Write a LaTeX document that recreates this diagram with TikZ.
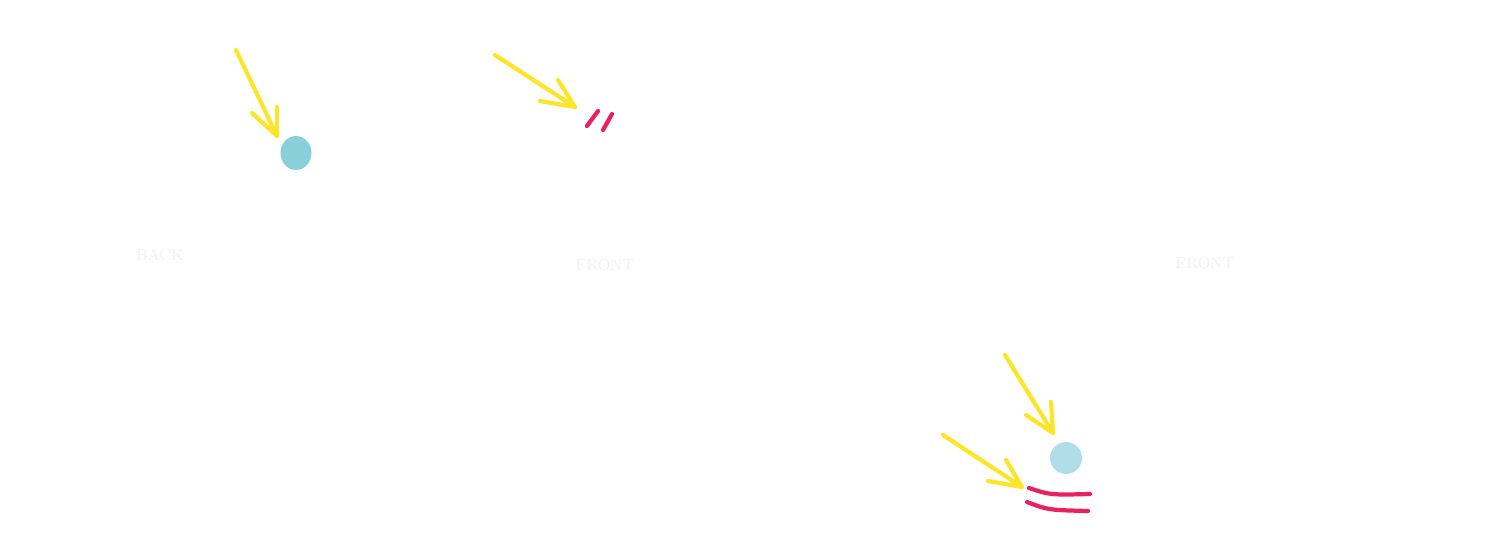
\documentclass[tikz,border=0pt]{standalone}
\usepackage{amsmath}
\usetikzlibrary{shapes.geometric}
\definecolor{sunray}{HTML}{FCE52B}
\definecolor{rose}{HTML}{E8215F}
\definecolor{dropA}{HTML}{88CFDA}
\definecolor{dropB}{HTML}{B0DDE8}
\tikzset{
  ray/.style={sunray, line width=2.4pt, line cap=round},
  mark line/.style={rose, line width=2.4pt, line cap=round},
  side/.style={text=black!6, font=\small}
}
\begin{document}
\begin{tikzpicture}[x=0.02cm,y=-0.02cm]
  \useasboundingbox (0,0) rectangle (1492,545);
  % Back view
  \node[ellipse, fill=dropA, minimum width=0.62cm, minimum height=0.68cm, inner sep=0] (drop1) at (296,153) {};
  \coordinate (s1) at (236,50);
  \coordinate (t1) at (277,136);
  \draw[ray] (s1) -- (t1);
  \draw[ray] (252,113) -- (t1);
  \draw[ray] (277,107) -- (t1);
  \node[side] (back) at (160,255) {BACK};
  % Front view
  \coordinate (s2) at (495,55);
  \coordinate (t2) at (575,107);
  \draw[ray] (s2) -- (t2) (540,101) -- (t2) (558,80) -- (t2);
  \draw[mark line] (587,126) -- (598,111);
  \draw[mark line] (603,130) -- (612,114);
  \node[side] (front1) at (605,265) {FRONT};
  % Front view, second
  \node[side] (front2) at (1205,263) {FRONT};
  % Lower view
  \node[circle, fill=dropB, minimum size=0.64cm, inner sep=0] (drop2) at (1066,458) {};
  \coordinate (s3) at (1005,355);
  \coordinate (t3) at (1053,433);
  \draw[ray] (s3) -- (t3) (1026,415) -- (t3) (1051,402) -- (t3);
  \coordinate (s4) at (943,435);
  \coordinate (t4) at (1022,487);
  \draw[ray] (s4) -- (t4) (988,481) -- (t4) (1006,460) -- (t4);
  \draw[mark line] (1029,488) .. controls (1050,495) .. (1090,494);
  \draw[mark line] (1027,502) .. controls (1048,510) .. (1088,511);
\end{tikzpicture}
\end{document}
